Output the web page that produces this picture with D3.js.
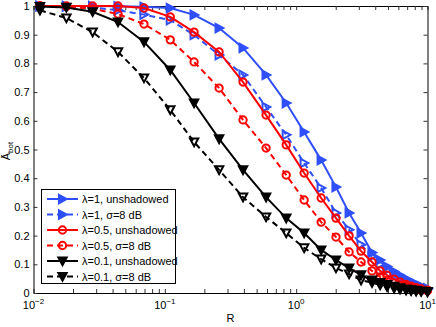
<!DOCTYPE html>
<html><head><meta charset="utf-8">
<script src="https://cdn.jsdelivr.net/npm/d3@7"></script>
<style>
body{margin:0;background:#fff}
svg{display:block}
text{font-family:"Liberation Sans",Arial,Helvetica,sans-serif;fill:#000}
</style>
</head><body>
<svg id="chart" width="436" height="327"></svg>
<script>
// ---- data ----
const R = [0.0112,0.0178,0.0282,0.044,0.0694,0.11,0.167,0.259,0.394,0.59,0.84,1.15,1.55,2.01,2.53,3.12,3.78,4.36,4.92,5.57,6.18,6.87,7.5,8.19,8.94,10];
const lam1Unsh  = [1.0,1.0,1.0,0.999,0.997,0.993,0.969,0.923,0.854,0.760,0.662,0.561,0.463,0.369,0.279,0.209,0.141,0.115,0.092,0.075,0.062,0.050,0.040,0.032,0.024,0.016];
const lam1Sh    = [1.0,0.999,0.995,0.985,0.970,0.951,0.899,0.829,0.760,0.648,0.551,0.453,0.366,0.279,0.220,0.168,0.128,0.100,0.080,0.064,0.052,0.042,0.034,0.027,0.021,0.014];
const lam05Unsh = [1.0,1.0,1.0,1.0,0.993,0.962,0.909,0.840,0.735,0.620,0.516,0.418,0.331,0.261,0.199,0.146,0.108,0.077,0.062,0.048,0.038,0.030,0.024,0.019,0.014,0.010];
const lam05Sh   = [1.0,0.998,0.990,0.972,0.937,0.882,0.805,0.714,0.603,0.505,0.411,0.324,0.247,0.195,0.143,0.108,0.077,0.056,0.044,0.035,0.028,0.022,0.018,0.014,0.011,0.008];
const lam01Unsh = [0.998,0.995,0.980,0.944,0.875,0.777,0.662,0.537,0.429,0.334,0.261,0.209,0.150,0.115,0.087,0.063,0.045,0.036,0.029,0.023,0.018,0.014,0.011,0.009,0.007,0.005];
const lam01Sh   = [0.985,0.958,0.909,0.840,0.749,0.638,0.526,0.429,0.334,0.265,0.209,0.157,0.118,0.087,0.066,0.045,0.036,0.028,0.022,0.017,0.013,0.010,0.008,0.006,0.005,0.004];

const seriesLabels = ["λ=1, unshadowed","λ=1, σ=8 dB","λ=0.5, unshadowed","λ=0.5, σ=8 dB","λ=0.1, unshadowed","λ=0.1, σ=8 dB"];
const seriesValues = [lam1Unsh, lam1Sh, lam05Unsh, lam05Sh, lam01Unsh, lam01Sh];
const seriesColors = ["#2f4ffa","#2f4ffa","#ff0000","#ff0000","#000000","#000000"];
const seriesDashed = [false,true,false,true,false,true];
const seriesMarker = ["right","right","circle","circle","down","down"];

const yTicks = [0,0.1,0.2,0.3,0.4,0.5,0.6,0.7,0.8,0.9,1];
const yTickLabels = ["0","0.1","0.2","0.3","0.4","0.5","0.6","0.7","0.8","0.9","1"];
const xMajorTicks = [0.01,0.1,1,10];
const xTickExponents = ["−2","−1","0","1"];
const xLabel = "R";

// ---- layout ----
const svg = d3.select("#chart");
const L = 33.5, Rt = 427.5, T = 6, B = 293;
const x = d3.scaleLog().domain([0.01,10]).range([L,Rt]);
const y = d3.scaleLinear().domain([0,1]).range([B,T]);

svg.append("rect").attr("width",436).attr("height",327).attr("fill","#fff");

const minorTicks = [];
for (let e=-2; e<1; e++) for (let m=2; m<=9; m++) minorTicks.push(m*Math.pow(10,e));

const tickLen = 4;
const xb = svg.append("g").attr("transform",`translate(0,${B})`)
  .call(d3.axisBottom(x).tickValues(minorTicks.concat(xMajorTicks)).tickSizeInner(-tickLen).tickSizeOuter(0).tickFormat(""));
const xt = svg.append("g").attr("transform",`translate(0,${T})`)
  .call(d3.axisTop(x).tickValues(minorTicks.concat(xMajorTicks)).tickSizeInner(-tickLen).tickSizeOuter(0).tickFormat(""));
const yl = svg.append("g").attr("transform",`translate(${L},0)`)
  .call(d3.axisLeft(y).tickValues(yTicks).tickSizeInner(-tickLen).tickSizeOuter(0).tickFormat(""));
const yr = svg.append("g").attr("transform",`translate(${Rt},0)`)
  .call(d3.axisRight(y).tickValues(yTicks).tickSizeInner(-tickLen).tickSizeOuter(0).tickFormat(""));
[xb,xt,yl,yr].forEach(g=>{
  g.selectAll("path.domain").attr("stroke","#000").attr("stroke-width",1);
  g.selectAll(".tick line").attr("stroke","#333");
});

svg.append("g").selectAll("text").data(yTicks).join("text")
  .attr("x",L-4).attr("y",d=>y(d)+4)
  .attr("text-anchor","end").attr("font-size",11)
  .text((d,i)=>yTickLabels[i]);

const xl = svg.append("g").selectAll("text").data(xMajorTicks).join("text")
  .attr("x",d=>x(d)).attr("y",308.5).attr("text-anchor","middle").attr("font-size",11);
xl.append("tspan").text("10");
xl.append("tspan").attr("dy",-5).attr("font-size",8).text((d,i)=>xTickExponents[i]);

svg.append("text").attr("x",(L+Rt)/2).attr("y",322).attr("text-anchor","middle").attr("font-size",11).text(xLabel);
const ylab = svg.append("text").attr("transform","translate(10,151) rotate(-90)").attr("text-anchor","middle").attr("font-size",11).attr("fill","#222");
ylab.append("tspan").text("Ā");
ylab.append("tspan").attr("dy",3).attr("font-size",8).text("bot");

function markerPath(type){
  const h=4.2;
  if(type==="right") return `M${-h*0.85},${-h}L${h},0L${-h*0.85},${h}Z`;
  if(type==="down") return `M${-h},${-h*0.85}L${h},${-h*0.85}L0,${h}Z`;
  return d3.symbol(d3.symbolCircle, 42)();
}
function markerFill(i){
  // unshadowed triangles appear solid in the reference
  return (!seriesDashed[i] && seriesMarker[i]!=="circle") ? seriesColors[i] : "none";
}

const line = d3.line().x(d=>x(d[0])).y(d=>y(d[1]));
const plot = svg.append("g");
seriesValues.forEach((vals,i)=>{
  const pts = R.map((r,j)=>[r,vals[j]]);
  const g = plot.append("g");
  g.append("path").datum(pts).attr("d",line).attr("fill","none")
    .attr("stroke",seriesColors[i]).attr("stroke-width",2)
    .attr("stroke-dasharray",seriesDashed[i]?"6,4":null);
  g.selectAll("path.m").data(pts).join("path").attr("class","m")
    .attr("transform",d=>`translate(${x(d[0])},${y(d[1])})`)
    .attr("d",markerPath(seriesMarker[i]))
    .attr("fill",markerFill(i)).attr("stroke",seriesColors[i]).attr("stroke-width",2);
});

const lg = svg.append("g");
lg.append("rect").attr("x",41.5).attr("y",189.5).attr("width",134).attr("height",94)
  .attr("fill","#fff").attr("stroke","#000").attr("stroke-width",1).attr("shape-rendering","crispEdges");
seriesLabels.forEach((lab,i)=>{
  const yy = 199 + i*15.5;
  lg.append("line").attr("x1",47).attr("x2",78).attr("y1",yy).attr("y2",yy)
    .attr("stroke",seriesColors[i]).attr("stroke-width",2)
    .attr("stroke-dasharray",seriesDashed[i]?"6,4":null);
  lg.append("path").attr("transform",`translate(62.5,${yy})`).attr("d",markerPath(seriesMarker[i]))
    .attr("fill",seriesMarker[i]==="circle"?"none":seriesColors[i]).attr("stroke",seriesColors[i]).attr("stroke-width",2);
  lg.append("text").attr("x",82).attr("y",yy+4).attr("font-size",11).text(lab);
});
</script>
</body></html>
